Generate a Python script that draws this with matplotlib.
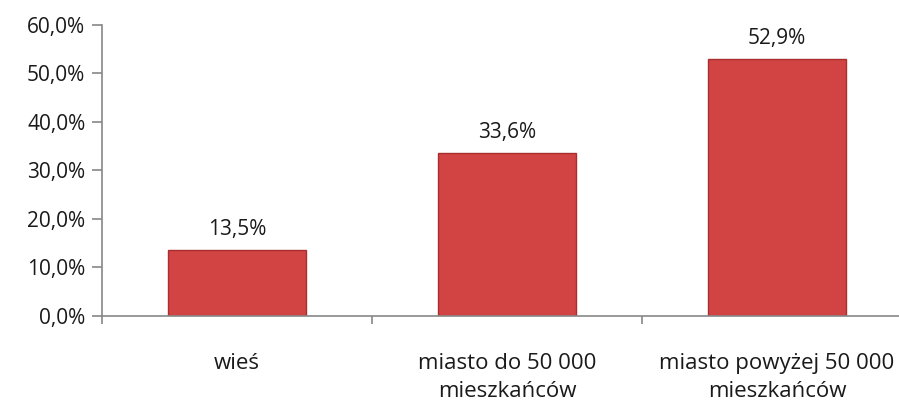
import matplotlib.pyplot as plt
from matplotlib.ticker import FixedLocator

categories = ["wieś", "miasto do 50 000\nmieszkańców", "miasto powyżej 50 000\nmieszkańców"]
values = [13.5, 33.6, 52.9]
labels = ["13,5%", "33,6%", "52,9%"]
yticks = [0, 10, 20, 30, 40, 50, 60]
ytick_labels = ["0,0%", "10,0%", "20,0%", "30,0%", "40,0%", "50,0%", "60,0%"]

plt.rcParams['font.family'] = ['Open Sans', 'DejaVu Sans']

fig = plt.figure(figsize=(8.99, 4.01), dpi=100)
# plot area runs a bit past the right edge of the picture, as in the original
ax = fig.add_axes([0.1135, 0.2127, 0.901, 0.7262])

x = range(len(categories))
bars = ax.bar(x, values, width=0.51, color='#d24343', edgecolor='#a92e2e', linewidth=1.0)

for b, lab in zip(bars, labels):
    ax.annotate(lab, (b.get_x() + b.get_width() / 2, b.get_height()),
                xytext=(0, 7), textcoords='offset points',
                ha='center', va='bottom', fontsize=15, color='#1a1a1a')

ax.set_xlim(-0.5, 2.5)
ax.set_ylim(0, 60)
ax.set_yticks(yticks)
ax.set_yticklabels(ytick_labels, fontsize=15, color='#1a1a1a')
ax.set_xticks(list(x))
ax.set_xticklabels(categories, fontsize=16, color='#1a1a1a', linespacing=1.4)
ax.tick_params(axis='x', which='major', length=0, pad=27)
ax.xaxis.set_minor_locator(FixedLocator([-0.5, 0.5, 1.5, 2.5]))
ax.tick_params(axis='x', which='minor', length=6, direction='out', color='#888888', width=1.2)
ax.tick_params(axis='y', length=7, direction='out', color='#888888', width=1.2, pad=5)

for s in ['top', 'right']:
    ax.spines[s].set_visible(False)
for s in ['left', 'bottom']:
    ax.spines[s].set_color('#888888')
    ax.spines[s].set_linewidth(1.2)

fig.savefig('out.png', dpi=100)
